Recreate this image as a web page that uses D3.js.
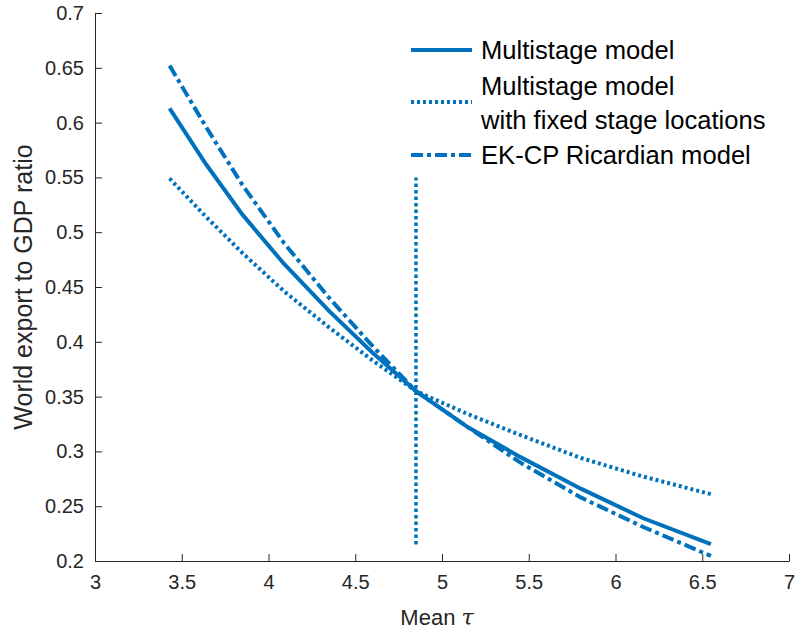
<!DOCTYPE html>
<html>
<head>
<meta charset="utf-8">
<script src="https://cdn.jsdelivr.net/npm/d3@7"></script>
<style>
  body { margin: 0; background: #fff; }
  text { font-family: "Liberation Sans", Arial, sans-serif; }
</style>
</head>
<body>
<svg id="chart"></svg>
<script>
// data
const tau = [3.43, 3.64, 3.85, 4.09, 4.35, 4.6, 4.85, 5.15, 5.45, 5.8, 6.16, 6.55];
const multistage = [0.613, 0.562, 0.516, 0.471, 0.428, 0.39, 0.355, 0.322, 0.295, 0.266, 0.239, 0.2155];
const fixedLocations = [0.549, 0.514, 0.481, 0.446, 0.413, 0.383, 0.355, 0.334, 0.315, 0.294, 0.277, 0.261];
const ekcp = [0.652, 0.596, 0.543, 0.49, 0.44, 0.396, 0.355, 0.322, 0.29, 0.258, 0.231, 0.2046];
const markerTau = 4.85;
const markerRange = [0.215, 0.55];
const xTicks = [3, 3.5, 4, 4.5, 5, 5.5, 6, 6.5, 7];
const yTicks = [0.2, 0.25, 0.3, 0.35, 0.4, 0.45, 0.5, 0.55, 0.6, 0.65, 0.7];
const seriesNames = ["Multistage model", ["Multistage model", "with fixed stage locations"], "EK-CP Ricardian model"];

const width = 795, height = 633;
const margin = { top: 13, right: 6, bottom: 72, left: 95 };
const blue = "#0072BD";
const axisColor = "#262626";

const svg = d3.select("#chart").attr("width", width).attr("height", height);

const x = d3.scaleLinear().domain([3, 7]).range([margin.left, width - margin.right]);
const y = d3.scaleLinear().domain([0.2, 0.7]).range([height - margin.bottom, margin.top]);

// axes (MATLAB style, ticks inside, box off)
const xAxis = (g) =>
  g
    .attr("transform", `translate(0,${y(0.2)})`)
    .call(d3.axisBottom(x).tickValues(xTicks).tickSizeInner(-7).tickSizeOuter(0).tickPadding(14).tickFormat(d3.format("")))
    .call((g) => g.select(".domain").attr("stroke", axisColor))
    .call((g) => g.selectAll(".tick line").attr("stroke", axisColor))
    .call((g) => g.selectAll(".tick text").attr("fill", axisColor).style("font-size", "20px"));

const yAxis = (g) =>
  g
    .attr("transform", `translate(${x(3)},0)`)
    .call(d3.axisLeft(y).tickValues(yTicks).tickSizeInner(-7).tickSizeOuter(0).tickPadding(11).tickFormat(d3.format("")))
    .call((g) => g.select(".domain").attr("stroke", axisColor))
    .call((g) => g.selectAll(".tick line").attr("stroke", axisColor))
    .call((g) => g.selectAll(".tick text").attr("fill", axisColor).style("font-size", "20px"));

svg.append("g").call(xAxis);
svg.append("g").call(yAxis);

// axis labels
const xl = svg
  .append("text")
  .attr("x", x(5) - 5)
  .attr("y", 625)
  .attr("text-anchor", "middle")
  .attr("fill", axisColor)
  .style("font-size", "22px");
xl.append("tspan").text("Mean ");
xl.append("tspan").text("τ").style("font-style", "italic").style("font-family", "'DejaVu Serif', serif");

svg
  .append("text")
  .attr("transform", `translate(32, ${y(0.45)}) rotate(-90)`)
  .attr("text-anchor", "middle")
  .attr("fill", axisColor)
  .style("font-size", "25px")
  .text("World export to GDP ratio");

// lines
const line = d3
  .line()
  .x((d) => x(d[0]))
  .y((d) => y(d[1]));

const styles = [
  { data: multistage, dash: null },
  { data: fixedLocations, dash: "3,3" },
  { data: ekcp, dash: "12,4,4,4" },
];

styles.forEach((s) => {
  svg
    .append("path")
    .datum(tau.map((t, i) => [t, s.data[i]]))
    .attr("d", line)
    .attr("fill", "none")
    .attr("stroke", blue)
    .attr("stroke-width", 4)
    .attr("stroke-dasharray", s.dash);
});

// vertical marker at baseline tau
svg
  .append("path")
  .datum(markerRange.map((v) => [markerTau, v]))
  .attr("d", line)
  .attr("stroke", blue)
  .attr("stroke-width", 3.5)
  .attr("stroke-dasharray", "3.5,3");

// legend
const legend = svg.append("g").attr("transform", "translate(411,0)");
const rows = [
  { y: 50, textY: [50], dash: null },
  { y: 102, textY: [86, 120], dash: "3,3" },
  { y: 155, textY: [155], dash: "12,4,4,4" },
];
rows.forEach((r, i) => {
  legend
    .append("line")
    .attr("x1", 0)
    .attr("x2", 61)
    .attr("y1", r.y)
    .attr("y2", r.y)
    .attr("stroke", blue)
    .attr("stroke-width", 4)
    .attr("stroke-dasharray", r.dash);
  const names = Array.isArray(seriesNames[i]) ? seriesNames[i] : [seriesNames[i]];
  names.forEach((n, j) => {
    legend
      .append("text")
      .attr("x", 70)
      .attr("y", r.textY[j])
      .attr("dy", "0.35em")
      .attr("fill", "#000")
      .style("font-size", "25.6px")
      .text(n);
  });
});
</script>
</body>
</html>
